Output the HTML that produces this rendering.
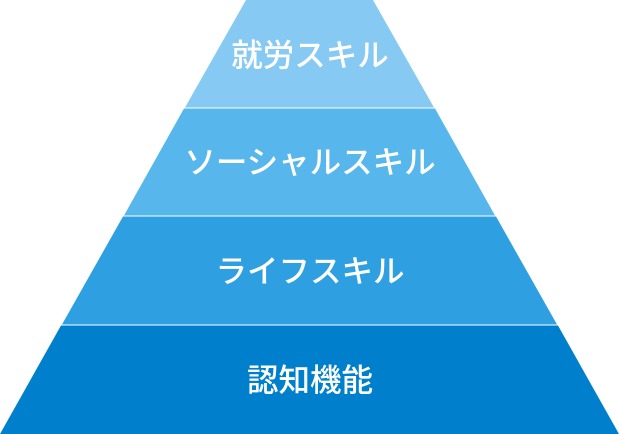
<!DOCTYPE html>
<html><head><meta charset="utf-8"><style>
html,body{margin:0;padding:0;background:#fff;width:619px;height:434px;overflow:hidden}
svg{display:block}
text{font-family:"Liberation Sans","Noto Sans CJK JP",sans-serif;font-size:31.5px;font-weight:500;fill:#fff;text-anchor:middle;dominant-baseline:central}
</style></head><body>
<svg width="619" height="434" viewBox="0 0 619 434">
<polygon points="246,0 373,0 434,107.5 185,107.5" fill="#86c9f3"/>
<polygon points="184,108.5 435,108.5 495,215.5 124,215.5" fill="#57b6ec"/>
<polygon points="123,216.5 496,216.5 557,324.5 62,324.5" fill="#2e9fe0"/>
<polygon points="61,325.5 558,325.5 619,434 0,434" fill="#0080cc"/>
<text x="310" y="55">就労スキル</text>
<text x="310" y="162">ソーシャルスキル</text>
<text x="310" y="271">ライフスキル</text>
<text x="310" y="380">認知機能</text>
</svg>
</body></html>
